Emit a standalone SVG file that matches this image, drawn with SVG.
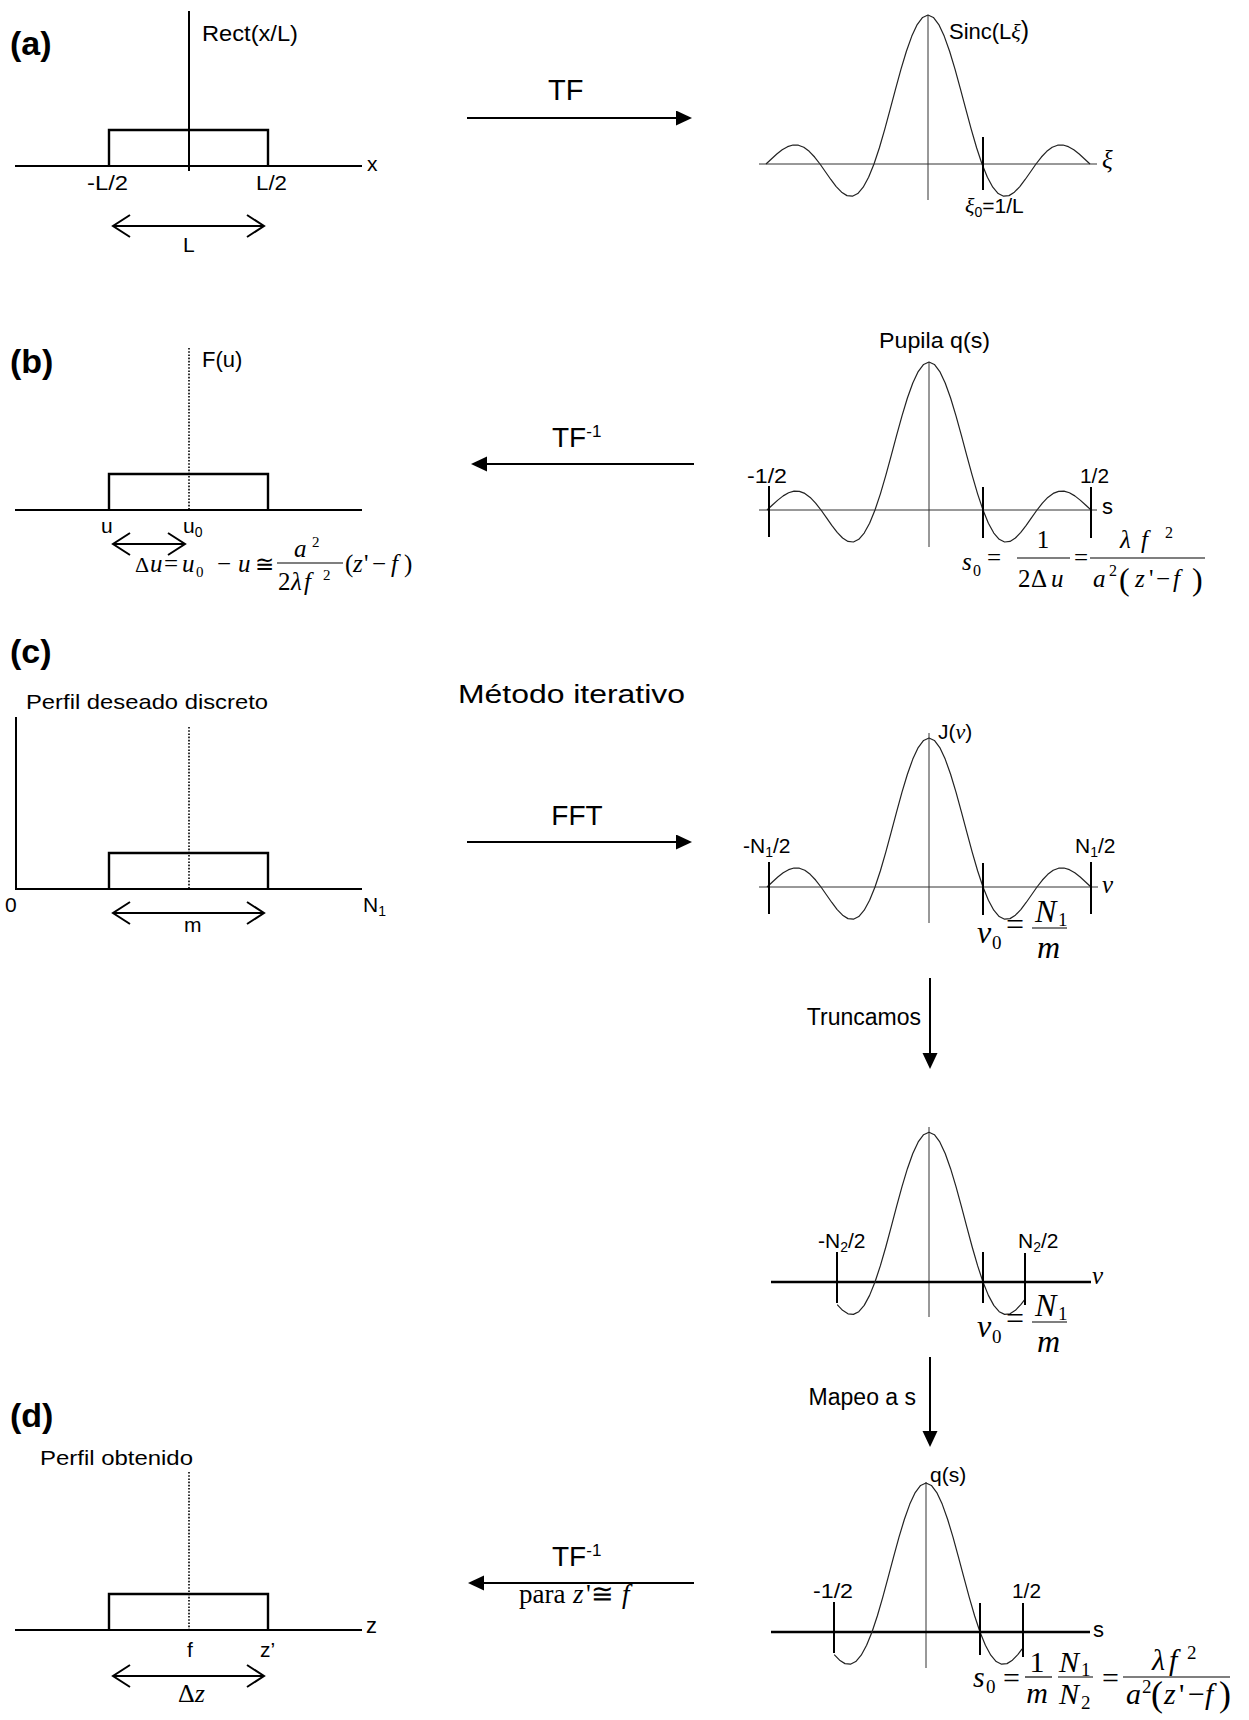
<svg xmlns="http://www.w3.org/2000/svg" width="1249" height="1720" viewBox="0 0 1249 1720" font-size="21">
<style>
text{font-family:"Liberation Sans",Arial,sans-serif;fill:#000}
.s,.s text{font-family:"Liberation Serif","Times New Roman",serif}
.i{font-style:italic}
.hd{font-size:34px;font-weight:bold}
.ax{stroke:#000;stroke-width:2;fill:none}
.th{stroke:#333;stroke-width:1;fill:none}
.cv{stroke:#222;stroke-width:1.2;fill:none;stroke-linejoin:round}
.tk{stroke:#000;stroke-width:2}
.bx{stroke:#000;stroke-width:2.4;fill:none}
.dt{stroke:#000;stroke-width:1.6;stroke-dasharray:1.6 1.6;fill:none}
.ar{stroke:#000;stroke-width:2;fill:none}
.fb{stroke:#000;stroke-width:1.2}
</style>
<defs>
<path id="sf" d="M-162,0 L-156.6,-5.05 L-151.2,-9.95 L-145.8,-14.21 L-140.4,-17.34 L-135,-18.97 L-129.6,-18.79 L-124.2,-16.69 L-118.8,-12.67 L-113.4,-6.97 L-108,0 L-102.6,7.72 L-97.2,15.48 L-91.8,22.57 L-86.4,28.19 L-81,31.62 L-75.6,32.21 L-70.2,29.52 L-64.8,23.23 L-59.4,13.32 L-54,0 L-48.6,-16.29 L-43.2,-34.85 L-37.8,-54.82 L-32.4,-75.19 L-27,-94.85 L-21.6,-112.76 L-16.2,-127.9 L-10.8,-139.39 L-5.4,-146.56 L0,-149 L5.4,-146.56 L10.8,-139.39 L16.2,-127.9 L21.6,-112.76 L27,-94.85 L32.4,-75.19 L37.8,-54.82 L43.2,-34.85 L48.6,-16.29 L54,0 L59.4,13.32 L64.8,23.23 L70.2,29.52 L75.6,32.21 L81,31.62 L86.4,28.19 L91.8,22.57 L97.2,15.48 L102.6,7.72 L108,0 L113.4,-6.97 L118.8,-12.67 L124.2,-16.69 L129.6,-18.79 L135,-18.97 L140.4,-17.34 L145.8,-14.21 L151.2,-9.95 L156.6,-5.05 L162,0"/>
<path id="st" d="M-91.8,22.57 L-86.4,28.19 L-81,31.62 L-75.6,32.21 L-70.2,29.52 L-64.8,23.23 L-59.4,13.32 L-54,0 L-48.6,-16.29 L-43.2,-34.85 L-37.8,-54.82 L-32.4,-75.19 L-27,-94.85 L-21.6,-112.76 L-16.2,-127.9 L-10.8,-139.39 L-5.4,-146.56 L0,-149 L5.4,-146.56 L10.8,-139.39 L16.2,-127.9 L21.6,-112.76 L27,-94.85 L32.4,-75.19 L37.8,-54.82 L43.2,-34.85 L48.6,-16.29 L54,0 L59.4,13.32 L64.8,23.23 L70.2,29.52 L75.6,32.21 L81,31.62 L86.4,28.19 L91.8,22.57 L96.1,16.98"/>
<marker id="ah" markerUnits="userSpaceOnUse" markerWidth="18" markerHeight="16" refX="8" refY="7.5" orient="auto"><path d="M0,0 L16,7.5 L0,15 Z" fill="#000"/></marker>
</defs>

<!-- Panel (a) left -->
<g id="panel-a-rect">
<text x="10" y="55" class="hd">(a)</text>
<line x1="189" y1="11" x2="189" y2="171" class="ax"/>
<line x1="15" y1="166" x2="362" y2="166" class="ax"/>
<polyline points="109,166 109,130 268,130 268,166" class="bx"/>
<text x="202" y="41" font-size="22" textLength="96" lengthAdjust="spacingAndGlyphs">Rect(x/L)</text>
<text x="367" y="171">x</text>
<text x="87" y="190" textLength="41" lengthAdjust="spacingAndGlyphs">-L/2</text>
<text x="256" y="190" textLength="31" lengthAdjust="spacingAndGlyphs">L/2</text>
<path d="M113,226 H264 M130,215 L113,226 L130,237 M247,215 L264,226 L247,237" class="ar"/>
<text x="183" y="252">L</text>
</g>

<!-- Panel (a) right -->
<g id="panel-a-sinc">
<line x1="928" y1="15" x2="928" y2="200" class="th"/>
<line x1="759" y1="164" x2="1097" y2="164" class="th"/>
<use href="#sf" transform="translate(928,164)" class="cv"/>
<line x1="983" y1="137" x2="983" y2="190" class="tk"/>
<text x="949" y="39" font-size="22">Sinc(L<tspan class="s i">ξ</tspan><tspan font-size="25">)</tspan></text>
<text x="1102" y="168" class="s i" font-size="25">ξ</text>
<text x="965" y="213"><tspan class="s i" font-size="22">ξ</tspan><tspan font-size="14" dy="4">0</tspan><tspan dy="-4">=1/L</tspan></text>
</g>

<!-- Panel (b) left -->
<g id="panel-b-rect">
<text x="10" y="373" class="hd">(b)</text>
<line x1="189" y1="348" x2="189" y2="510" class="dt"/>
<line x1="15" y1="510" x2="362" y2="510" class="ax"/>
<polyline points="109,510 109,474 268,474 268,510" class="bx"/>
<text x="202" y="367" font-size="22">F(u)</text>
<text x="101" y="533">u</text>
<text x="183" y="533">u<tspan font-size="14" dy="4">0</tspan></text>
<path d="M113,544 H185 M130,533 L113,544 L130,555 M168,533 L185,544 L168,555" class="ar"/>
<g class="s" font-size="25">
<text x="135" y="572" font-size="22">Δ</text>
<text x="150" y="572" class="i">u</text>
<text x="164" y="572">=</text>
<text x="182" y="572" class="i">u</text>
<text x="196" y="577" font-size="15">0</text>
<text x="217" y="572">−</text>
<text x="238" y="572" class="i">u</text>
<text x="255" y="572" font-size="23">≅</text>
<line x1="277" y1="563" x2="343" y2="563" class="fb"/>
<text x="294" y="557" class="i">a</text>
<text x="312" y="547" font-size="15">2</text>
<text x="278" y="590">2</text>
<text x="291" y="590" class="i">λ</text>
<text x="304" y="590" class="i">f</text>
<text x="323" y="580" font-size="15">2</text>
<text x="345" y="572">(</text>
<text x="353" y="572" class="i">z</text>
<text x="364" y="572">'</text>
<text x="372" y="572">−</text>
<text x="391" y="572" class="i">f</text>
<text x="404" y="572">)</text>
</g>
</g>

<!-- Panel (b) right -->
<g id="panel-b-sinc">
<line x1="929" y1="362" x2="929" y2="547" class="th"/>
<line x1="759" y1="510" x2="1097" y2="510" class="th"/>
<use href="#sf" transform="translate(929,510) scale(1,0.993)" class="cv"/>
<line x1="769" y1="486" x2="769" y2="537" class="tk"/>
<line x1="983" y1="487" x2="983" y2="538" class="tk"/>
<line x1="1091" y1="487" x2="1091" y2="538" class="tk"/>
<text x="879" y="348" font-size="22" textLength="111" lengthAdjust="spacingAndGlyphs">Pupila q(s)</text>
<text x="747" y="483" textLength="40" lengthAdjust="spacingAndGlyphs">-1/2</text>
<text x="1080" y="483" textLength="29" lengthAdjust="spacingAndGlyphs">1/2</text>
<text x="1102" y="514" font-size="22">s</text>
<g class="s" font-size="25">
<text x="962" y="570" class="i">s</text>
<text x="973" y="576" font-size="16">0</text>
<text x="987" y="566">=</text>
<text x="1043" y="548" text-anchor="middle">1</text>
<line x1="1017" y1="558" x2="1070" y2="558" class="fb"/>
<text x="1018" y="587">2</text>
<text x="1031" y="587">Δ</text>
<text x="1051" y="587" class="i">u</text>
<text x="1074" y="566">=</text>
<line x1="1090" y1="558" x2="1205" y2="558" class="fb"/>
<text x="1120" y="548" class="i">λ</text>
<text x="1141" y="548" class="i">f</text>
<text x="1165" y="538" font-size="16">2</text>
<text x="1093" y="587" class="i">a</text>
<text x="1109" y="576" font-size="16">2</text>
<text x="1119" y="590" font-size="32">(</text>
<text x="1135" y="587" class="i">z</text>
<text x="1149" y="587">'</text>
<text x="1156" y="587">−</text>
<text x="1173" y="587" class="i">f</text>
<text x="1192" y="590" font-size="32">)</text>
</g>
</g>

<!-- Panel (c) left -->
<g id="panel-c-rect">
<text x="10" y="663" class="hd">(c)</text>
<text x="26" y="709" textLength="242" lengthAdjust="spacingAndGlyphs">Perfil deseado discreto</text>
<line x1="16" y1="717" x2="16" y2="890" class="ax"/>
<line x1="15" y1="889" x2="362" y2="889" class="ax"/>
<line x1="189" y1="727" x2="189" y2="889" class="dt"/>
<polyline points="109,889 109,853 268,853 268,889" class="bx"/>
<text x="5" y="912">0</text>
<text x="363" y="912">N<tspan font-size="14" dy="4">1</tspan></text>
<path d="M113,913 H264 M130,902 L113,913 L130,924 M247,902 L264,913 L247,924" class="ar"/>
<text x="184" y="932">m</text>
</g>

<!-- Panel (c) right -->
<g id="panel-c-sinc">
<line x1="929" y1="733" x2="929" y2="923" class="th"/>
<line x1="759" y1="887" x2="1098" y2="887" class="th"/>
<use href="#sf" transform="translate(929,887)" class="cv"/>
<line x1="769" y1="862" x2="769" y2="914" class="tk"/>
<line x1="983" y1="863" x2="983" y2="915" class="tk"/>
<line x1="1091" y1="862" x2="1091" y2="914" class="tk"/>
<text x="938" y="739">J(<tspan class="s i" font-size="22">ν</tspan>)</text>
<text x="743" y="853">-N<tspan font-size="14" dy="4">1</tspan><tspan dy="-4">/2</tspan></text>
<text x="1075" y="853">N<tspan font-size="14" dy="4">1</tspan><tspan dy="-4">/2</tspan></text>
<text x="1102" y="893" class="s i" font-size="25">ν</text>
<g id="nu0-c" class="s" font-size="32">
<text x="977" y="943" class="i">ν</text>
<text x="992" y="949" font-size="19">0</text>
<text x="1006" y="935">=</text>
<text x="1035" y="922" class="i">N</text>
<text x="1058" y="926" font-size="19">1</text>
<line x1="1032" y1="928" x2="1067" y2="928" class="fb"/>
<text x="1037" y="958" class="i">m</text>
</g>
</g>

<!-- Truncated spectrum -->
<g id="panel-c-trunc">
<line x1="929" y1="1127" x2="929" y2="1317" class="th"/>
<line x1="771" y1="1282" x2="1091" y2="1282" stroke="#000" stroke-width="2.6"/>
<use href="#st" transform="translate(929,1282) scale(1,1.005)" class="cv"/>
<line x1="837" y1="1252" x2="837" y2="1303" class="tk"/>
<line x1="983" y1="1252" x2="983" y2="1303" class="tk"/>
<line x1="1025" y1="1253" x2="1025" y2="1305" class="tk"/>
<text x="818" y="1248">-N<tspan font-size="14" dy="4">2</tspan><tspan dy="-4">/2</tspan></text>
<text x="1018" y="1248">N<tspan font-size="14" dy="4">2</tspan><tspan dy="-4">/2</tspan></text>
<text x="1092" y="1284" class="s i" font-size="25">ν</text>
<g class="s" font-size="32" transform="translate(0,394)">
<text x="977" y="943" class="i">ν</text>
<text x="992" y="949" font-size="19">0</text>
<text x="1006" y="935">=</text>
<text x="1035" y="922" class="i">N</text>
<text x="1058" y="926" font-size="19">1</text>
<line x1="1032" y1="928" x2="1067" y2="928" class="fb"/>
<text x="1037" y="958" class="i">m</text>
</g>
</g>

<!-- q(s) panel -->
<g id="panel-d-qs">
<line x1="926" y1="1482" x2="926" y2="1668" class="th"/>
<line x1="771" y1="1632" x2="1090" y2="1632" stroke="#000" stroke-width="2.6"/>
<use href="#st" transform="translate(926,1632)" class="cv"/>
<line x1="834" y1="1602" x2="834" y2="1653" class="tk"/>
<line x1="980" y1="1603" x2="980" y2="1655" class="tk"/>
<line x1="1023" y1="1603" x2="1023" y2="1657" class="tk"/>
<text x="930" y="1482">q(s)</text>
<text x="813" y="1598" textLength="40" lengthAdjust="spacingAndGlyphs">-1/2</text>
<text x="1012" y="1598" textLength="29" lengthAdjust="spacingAndGlyphs">1/2</text>
<text x="1093" y="1637" font-size="22">s</text>
<g class="s" font-size="30">
<text x="973" y="1687" class="i">s</text>
<text x="986" y="1693" font-size="19">0</text>
<text x="1003" y="1688">=</text>
<text x="1037" y="1672" text-anchor="middle">1</text>
<line x1="1025" y1="1677" x2="1052" y2="1677" class="fb"/>
<text x="1037" y="1703" text-anchor="middle" class="i">m</text>
<text x="1059" y="1672" class="i">N</text>
<text x="1081" y="1676" font-size="19">1</text>
<line x1="1058" y1="1677" x2="1093" y2="1677" class="fb"/>
<text x="1059" y="1704" class="i">N</text>
<text x="1081" y="1709" font-size="19">2</text>
<text x="1102" y="1688">=</text>
<line x1="1123" y1="1677" x2="1230" y2="1677" class="fb"/>
<text x="1152" y="1670" class="i">λ</text>
<text x="1169" y="1670" class="i">f</text>
<text x="1187" y="1659" font-size="19">2</text>
<text x="1126" y="1704" class="i">a</text>
<text x="1142" y="1693" font-size="19">2</text>
<text x="1151" y="1706" font-size="36">(</text>
<text x="1164" y="1704" class="i">z</text>
<text x="1179" y="1704">'</text>
<text x="1188" y="1704">−</text>
<text x="1205" y="1704" class="i">f</text>
<text x="1219" y="1706" font-size="36">)</text>
</g>
</g>

<!-- Panel (d) left -->
<g id="panel-d-rect">
<text x="10" y="1427" class="hd">(d)</text>
<text x="40" y="1465" textLength="153" lengthAdjust="spacingAndGlyphs">Perfil obtenido</text>
<line x1="189" y1="1472" x2="189" y2="1630" class="dt"/>
<line x1="15" y1="1630" x2="362" y2="1630" class="ax"/>
<polyline points="109,1630 109,1594 268,1594 268,1630" class="bx"/>
<text x="366" y="1633" font-size="22">z</text>
<text x="187" y="1657">f</text>
<text x="260" y="1657">z’</text>
<path d="M113,1676 H264 M130,1665 L113,1676 L130,1687 M247,1665 L264,1676 L247,1687" class="ar"/>
<text x="178" y="1702" class="s" font-size="26">Δ<tspan class="i">z</tspan></text>
</g>

<!-- Connectors -->
<g id="connectors">
<line x1="467" y1="118" x2="684" y2="118" class="ar" marker-end="url(#ah)"/>
<text x="548" y="100" font-size="29">TF</text>

<line x1="694" y1="464" x2="479" y2="464" class="ar" marker-end="url(#ah)"/>
<text x="552" y="447" font-size="28">TF<tspan font-size="17" dy="-10">-1</tspan></text>

<text x="458" y="703" font-size="25" textLength="227" lengthAdjust="spacingAndGlyphs">Método iterativo</text>
<line x1="467" y1="842" x2="684" y2="842" class="ar" marker-end="url(#ah)"/>
<text x="577" y="825" font-size="28" text-anchor="middle">FFT</text>

<line x1="930" y1="978" x2="930" y2="1061" class="ar" marker-end="url(#ah)"/>
<text x="921" y="1025" font-size="23" text-anchor="end">Truncamos</text>

<line x1="930" y1="1357" x2="930" y2="1439" class="ar" marker-end="url(#ah)"/>
<text x="916" y="1405" font-size="23" text-anchor="end">Mapeo a s</text>

<line x1="694" y1="1583" x2="476" y2="1583" class="ar" marker-end="url(#ah)"/>
<text x="552" y="1566" font-size="28">TF<tspan font-size="17" dy="-10">-1</tspan></text>
<g class="s" font-size="27">
<text x="519" y="1603">para</text>
<text x="573" y="1603" class="i">z</text>
<text x="586" y="1603">'</text>
<text x="591" y="1603">≅</text>
<text x="622" y="1603" class="i">f</text>
</g>
</g>
</svg>
